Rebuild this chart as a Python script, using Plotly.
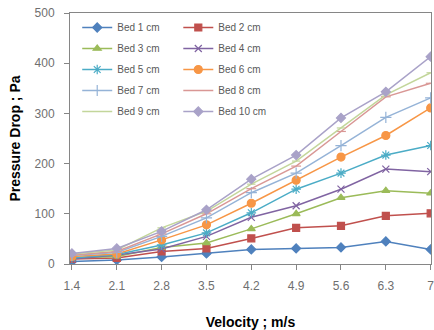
import plotly.graph_objects as go

velocity = [1.4, 2.1, 2.8, 3.5, 4.2, 4.9, 5.6, 6.3, 7.0]
tick_labels = ["1.4", "2.1", "2.8", "3.5", "4.2", "4.9", "5.6", "6.3", "7"]

bed_1 = [5, 8, 14, 21, 29, 31, 33, 45, 29]
bed_2 = [10, 12, 25, 31, 51, 72, 76, 96, 101]
bed_3 = [12, 15, 33, 42, 70, 100, 132, 146, 141]
bed_4 = [10, 18, 30, 55, 93, 116, 149, 189, 184]
bed_5 = [12, 19, 38, 62, 102, 149, 181, 217, 236]
bed_6 = [15, 20, 48, 78, 121, 167, 213, 256, 311]
bed_7 = [17, 23, 55, 92, 142, 181, 236, 292, 331]
bed_8 = [18, 25, 60, 100, 150, 195, 264, 333, 360]
bed_9 = [20, 28, 72, 105, 159, 205, 271, 337, 381]
bed_10 = [21, 31, 65, 108, 169, 217, 291, 343, 413]

series = [
    ("Bed 1 cm", bed_1, "#4F81BD", "diamond", 7, "legend"),
    ("Bed 2 cm", bed_2, "#C0504D", "square", 7, "legend2"),
    ("Bed 3 cm", bed_3, "#9BBB59", "triangle-up", 7, "legend"),
    ("Bed 4 cm", bed_4, "#8064A2", "x-thin-open", 7, "legend2"),
    ("Bed 5 cm", bed_5, "#4BACC6", "asterisk-open", 8, "legend"),
    ("Bed 6 cm", bed_6, "#F79646", "circle", 8, "legend2"),
    ("Bed 7 cm", bed_7, "#95B3D7", "cross-thin-open", 8, "legend"),
    ("Bed 8 cm", bed_8, "#D99795", "line-ew-open", 7, "legend2"),
    ("Bed 9 cm", bed_9, "#C3D69B", "line-ew-open", 6, "legend"),
    ("Bed 10 cm", bed_10, "#A9A2C8", "diamond", 7, "legend2"),
]

fig = go.Figure()
for name, vals, color, sym, size, leg in series:
    fig.add_trace(go.Scatter(
        x=velocity, y=vals, name=name, mode="lines+markers",
        line=dict(color=color, width=1.5),
        marker=dict(symbol=sym, size=size, color=color,
                    line=dict(color=color, width=1.2)),
        legend=leg, legendgroup=name,
    ))

legend_common = dict(
    font=dict(family="Arial, Liberation Sans, sans-serif", size=10, color="#595959"),
    bgcolor="rgba(0,0,0,0)", borderwidth=0, tracegroupgap=2,
    xanchor="left", yanchor="top", itemwidth=30,
)

fig.update_layout(
    width=434, height=330,
    margin=dict(l=70, r=0, t=13, b=66),
    paper_bgcolor="white", plot_bgcolor="white",
    font=dict(family="Arial, Liberation Sans, sans-serif", color="#595959"),
    legend=dict(x=0.02, y=1.0, **legend_common),
    legend2=dict(x=0.30, y=1.0, **legend_common),
    xaxis=dict(
        range=[1.37, 7.005], tickvals=velocity, ticktext=tick_labels,
        showgrid=False, zeroline=False, showline=True, mirror=True,
        linecolor="#868686", linewidth=1, ticks="outside", ticklen=5,
        tickcolor="#868686", tickfont=dict(size=12, color="#6f6f6f"),
        ticklabelstandoff=6, ticklabeloverflow="allow",
        title=dict(text="<b>Velocity ; m/s</b>", font=dict(size=14, color="black"), standoff=24),
    ),
    yaxis=dict(
        range=[0, 500], tickvals=[0, 100, 200, 300, 400, 500],
        showgrid=False, zeroline=False, showline=True, mirror=True,
        linecolor="#868686", linewidth=1, ticks="outside", ticklen=5,
        tickcolor="#868686", tickfont=dict(size=12, color="#6f6f6f"),
        ticklabelstandoff=7,
        title=dict(text="<b>Pressure Drop ; Pa</b>", font=dict(size=14, color="black"), standoff=10),
    ),
)

fig.write_html("out.html")
